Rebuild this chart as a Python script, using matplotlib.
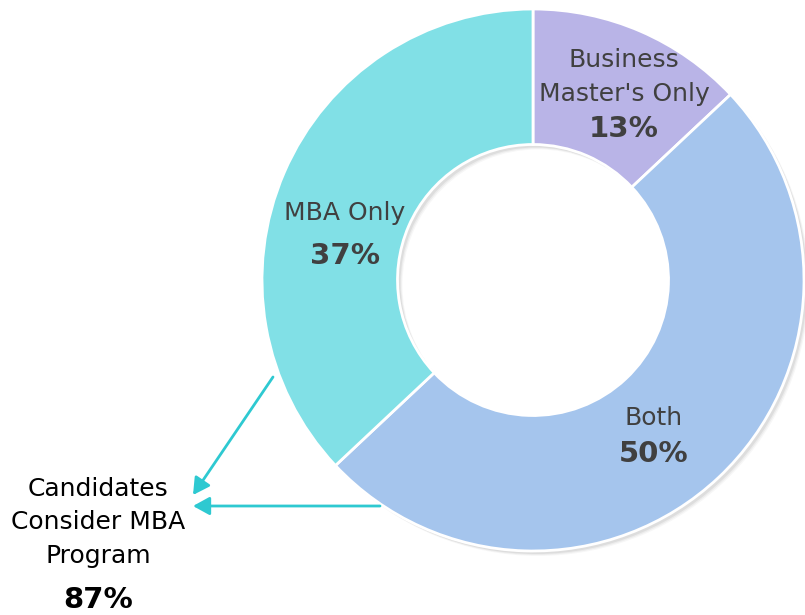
import matplotlib
matplotlib.use("Agg")
import matplotlib.pyplot as plt
from matplotlib.patches import Wedge

labels = ["Business\nMaster's Only", "Both", "MBA Only"]
values = [13, 50, 37]
pct_labels = ["13%", "50%", "37%"]
colors = ["#b9b4e7", "#a5c5ed", "#81e0e6"]
callout_text = "Candidates\nConsider MBA\nProgram"
callout_value = "87%"

W, H = 805, 615
fig = plt.figure(figsize=(W / 100, H / 100), dpi=100)
ax = fig.add_axes([0, 0, 1, 1])
ax.set_xlim(0, W)
ax.set_ylim(0, H)
ax.set_aspect("equal")
ax.axis("off")

cx, cy, R = 533, H - 280, 271
# subtle shadow
for i, a in enumerate([0.06, 0.045, 0.03]):
    ax.add_patch(Wedge((cx + 3 + i, cy - 3 - i), R, 0, 360, width=R * 0.5,
                       facecolor="black", alpha=a, edgecolor="none", zorder=0))

ax.pie(values, colors=colors, startangle=90, counterclock=False,
       center=(cx, cy), radius=R, frame=True,
       wedgeprops=dict(width=R * 0.5, edgecolor="white", linewidth=2))
ax.set_xlim(0, W)
ax.set_ylim(0, H)
ax.axis("off")

txt_col = "#404040"
label_pos = [(624, 77, 129), (654, 418, 454), (345, 213, 256)]
for lab, pct, (x, y1, y2) in zip(labels, pct_labels, label_pos):
    ax.text(x, H - y1, lab, ha="center", va="center", fontsize=18,
            color=txt_col, linespacing=1.5)
    ax.text(x, H - y2, pct, ha="center", va="center", fontsize=21,
            color=txt_col, fontweight="bold")

ax.text(98, H - 522, callout_text, ha="center", va="center", fontsize=18,
        color="black", linespacing=1.5)
ax.text(98, H - 600, callout_value, ha="center", va="center", fontsize=21,
        color="black", fontweight="bold")

arrow_col = "#2ec9d1"
ap = dict(arrowstyle="-|>,head_length=1.0,head_width=0.55", color=arrow_col,
          lw=2, shrinkA=0, shrinkB=0)
ax.annotate("", xy=(193, H - 495), xytext=(273, H - 377), arrowprops=ap)
ax.annotate("", xy=(193, H - 506), xytext=(380, H - 506), arrowprops=ap)

fig.savefig("out.png", dpi=100)
